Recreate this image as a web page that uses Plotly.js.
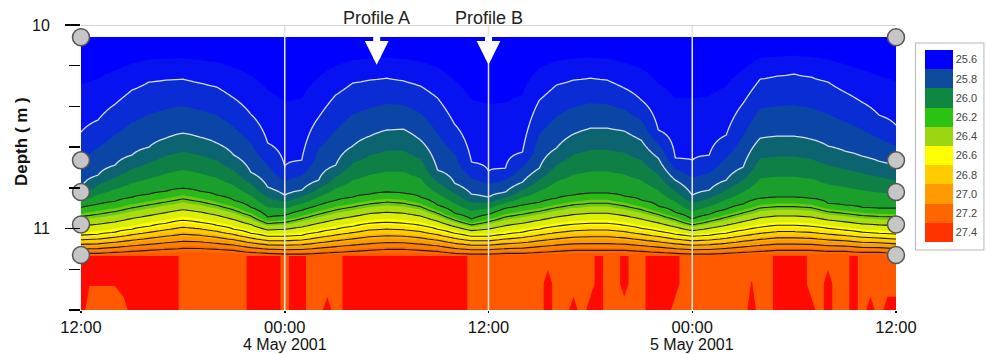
<!DOCTYPE html>
<html>
<head>
<meta charset="utf-8">
<script src="https://cdn.plot.ly/plotly-3.0.1.min.js"></script>
<style>html,body{margin:0;padding:0;background:#fff}#chart{width:986px;height:354px}</style>
</head>
<body>
<div id="chart"></div>
<script>
// ---------- DATA ----------
// Depth (m) of isotherms, hourly from 12:00 3 May 2001 to 12:00 5 May 2001 (49 samples)
const iso257 = [10.526,10.467,10.389,10.320,10.280,10.271,10.266,10.285,10.305,10.359,10.438,10.580,10.694,
  10.664,10.453,10.344,10.285,10.271,10.261,10.275,10.300,10.359,10.487,10.674,10.718,
  10.703,10.625,10.369,10.295,10.271,10.261,10.271,10.310,10.369,10.516,10.654,10.664,
  10.639,10.541,10.384,10.266,10.251,10.241,10.256,10.280,10.330,10.379,10.443,10.492];
const iso259 = [10.802,10.738,10.689,10.639,10.600,10.556,10.531,10.551,10.580,10.639,10.723,10.797,10.836,
  10.812,10.762,10.689,10.595,10.546,10.516,10.512,10.566,10.713,10.777,10.831,10.846,
  10.821,10.772,10.703,10.605,10.536,10.507,10.507,10.521,10.566,10.654,10.762,10.836,
  10.812,10.762,10.698,10.556,10.546,10.546,10.561,10.595,10.620,10.644,10.669,10.694];
const iso262 = [10.895,10.880,10.866,10.846,10.831,10.817,10.802,10.817,10.836,10.861,10.895,10.944,10.935,
  10.910,10.885,10.861,10.846,10.831,10.821,10.826,10.846,10.885,10.925,10.954,10.930,
  10.900,10.885,10.871,10.851,10.836,10.826,10.826,10.841,10.861,10.890,10.920,10.954,
  10.930,10.905,10.880,10.851,10.846,10.846,10.851,10.876,10.885,10.895,10.900,10.900];
const iso2665 = [11.033,11.028,11.018,11.003,10.989,10.974,10.959,10.969,10.984,11.003,11.023,11.038,11.038,
  11.033,11.018,11.003,10.989,10.974,10.969,10.974,10.984,11.003,11.023,11.038,11.038,
  11.028,11.018,11.003,10.989,10.979,10.974,10.974,10.984,10.999,11.013,11.028,11.038,
  11.033,11.023,11.008,10.994,10.984,10.984,10.989,10.999,11.008,11.018,11.023,11.028];
const iso2725 = [11.122,11.122,11.117,11.112,11.107,11.102,11.097,11.097,11.102,11.107,11.117,11.122,11.126,
  11.126,11.122,11.117,11.112,11.107,11.102,11.102,11.107,11.112,11.122,11.126,11.126,
  11.122,11.122,11.117,11.112,11.107,11.107,11.107,11.107,11.112,11.117,11.122,11.126,
  11.126,11.122,11.117,11.112,11.107,11.107,11.107,11.112,11.112,11.117,11.117,11.122];
const topDepth = 10.059, topTemp = 25.5;
const bottomLayerDepth = 11.135, bottomTemp = 27.35;

// Near-bottom temperatures (half-hourly, 97 samples) at three depths
const redDepths = [11.135, 11.27, 11.4];
const redTop = [27.5,27.5,27.5,27.5,27.5,27.5,27.5,27.5,27.5,27.5,
  27.5,27.5,27.3,27.3,27.3,27.3,27.3,27.3,27.3,27.3,
  27.5,27.5,27.5,27.5,27.3,27.5,27.5,27.3,27.3,27.3,
  27.3,27.425,27.5,27.5,27.5,27.5,27.5,27.5,27.5,27.5,
  27.5,27.5,27.5,27.5,27.5,27.5,27.3,27.3,27.3,27.3,
  27.3,27.3,27.3,27.3,27.3,27.3,27.3,27.3,27.3,27.3,
  27.3,27.5,27.3,27.3,27.5,27.3,27.3,27.5,27.5,27.5,
  27.5,27.3,27.3,27.3,27.3,27.3,27.3,27.3,27.3,27.3,
  27.3,27.3,27.5,27.5,27.5,27.5,27.3,27.3,27.3,27.3,
  27.3,27.5,27.3,27.3,27.3,27.3,27.3];
const redMid = [27.5,27.41,27.41,27.41,27.41,27.5,27.5,27.5,27.5,27.5,
  27.5,27.5,27.3,27.3,27.3,27.3,27.3,27.3,27.3,27.3,
  27.5,27.5,27.5,27.5,27.3,27.5,27.5,27.3,27.3,27.3,
  27.3,27.425,27.5,27.5,27.5,27.5,27.5,27.5,27.5,27.5,
  27.5,27.5,27.5,27.5,27.5,27.5,27.3,27.3,27.3,27.3,
  27.3,27.3,27.3,27.3,27.3,27.5,27.3,27.3,27.3,27.3,
  27.3,27.5,27.3,27.3,27.5,27.3,27.3,27.5,27.5,27.5,
  27.5,27.3,27.3,27.3,27.3,27.3,27.3,27.3,27.3,27.41,
  27.3,27.3,27.5,27.5,27.5,27.5,27.3,27.3,27.5,27.3,
  27.3,27.5,27.3,27.3,27.3,27.3,27.3];
const redBottom = [27.5,27.3,27.3,27.3,27.3,27.3,27.5,27.5,27.5,27.5,
  27.5,27.5,27.3,27.3,27.3,27.3,27.3,27.3,27.3,27.3,
  27.5,27.5,27.5,27.5,27.3,27.5,27.5,27.3,27.3,27.5,
  27.3,27.425,27.5,27.5,27.5,27.5,27.5,27.5,27.5,27.5,
  27.5,27.5,27.5,27.5,27.5,27.5,27.3,27.3,27.3,27.3,
  27.3,27.3,27.3,27.3,27.3,27.5,27.3,27.3,27.5,27.3,
  27.5,27.5,27.3,27.3,27.3,27.3,27.3,27.5,27.5,27.5,
  27.3,27.3,27.3,27.3,27.3,27.3,27.3,27.3,27.3,27.5,
  27.3,27.3,27.5,27.5,27.5,27.5,27.5,27.3,27.5,27.3,
  27.3,27.5,27.3,27.5,27.3,27.5,27.5];

// Sensor depths (grey circles)
const sensorDepths = [10.06, 10.665, 10.82, 10.98, 11.13];

// Axis ticks
const tickTimes = ['2001-05-03 12:00','2001-05-04 00:00','2001-05-04 12:00','2001-05-05 00:00','2001-05-05 12:00'];
const tickText = ['12:00','00:00','12:00','00:00','12:00'];
const dateLabelTimes = ['2001-05-04 00:00','2001-05-05 00:00'];
const dateLabelText = ['4 May 2001','5 May 2001'];
const gridTimes = ['2001-05-04 00:00','2001-05-04 12:00','2001-05-05 00:00'];

// Profiles
const profileNames = ['Profile A','Profile B'];
const profileTimes = ['2001-05-04 05:25','2001-05-04 12:00'];
const profileArrowDepth = 10.195;

// Legend
const legendValues = [25.6,25.8,26.0,26.2,26.4,26.6,26.8,27.0,27.2,27.4];
const legendColors = ['#0000FF','#0C4B9C','#0E8840','#2CC212','#9CD612','#FFFF00','#FFCC00','#FF9A00','#FF6600','#FF3300'];

// ---------- STYLE ----------
const bandColors = ['#0000FF','#0612F0','#0A2CD4','#0B46A6','#0C6470','#0E8046','#1A9E2C','#2DB81A','#6ACB14','#A8DC10',
  '#DCEE08','#FFFF00','#FFE400','#FFCC00','#FFB000','#FF9900','#FF8000','#FF6A00','#FF5A00','#FF0A00'];
const FONT = 'Liberation Sans, Arial, sans-serif';

// ---------- BUILD ----------
function stamp(h) {
  const d = new Date(Date.UTC(2001, 4, 3, 12, 0) + h * 3600000);
  return d.toISOString().slice(0, 16).replace('T', ' ');
}
const hourTimes = iso257.map((_, i) => stamp(i));
const halfHourTimes = redTop.map((_, i) => stamp(i / 2));

const depthGrid = [];
for (let d = topDepth; d <= 11.4 + 1e-9; d += 0.004) depthGrid.push(+d.toFixed(4));
if (depthGrid[depthGrid.length - 1] < 11.4) depthGrid.push(11.4);

function profileAnchors(i) {
  return [[topDepth, topTemp], [iso257[i], 25.7], [iso259[i], 25.9], [iso262[i], 26.2],
    [iso2665[i], 26.65], [iso2725[i], 27.25], [bottomLayerDepth, bottomTemp], [11.4, bottomTemp]];
}
function tempAt(anchors, d) {
  if (d <= anchors[0][0]) return anchors[0][1];
  for (let k = 1; k < anchors.length; k++) {
    if (d <= anchors[k][0]) {
      const [d0, t0] = anchors[k - 1], [d1, t1] = anchors[k];
      return t0 + (t1 - t0) * (d - d0) / (d1 - d0);
    }
  }
  return anchors[anchors.length - 1][1];
}
const cols = hourTimes.map((_, i) => profileAnchors(i));
const zGrid = depthGrid.map(d => cols.map(a => tempAt(a, d)));

const fillScale = bandColors.map((c, i) => [i / (bandColors.length - 1), c]);
// legend drawn top-to-bottom from 25.6 to 27.4: negate values so colorbar runs downward
const legendScale = [];
const revColors = legendColors.slice().reverse();
revColors.forEach((c, i) => { legendScale.push([i / 10, c]); legendScale.push([(i + 1) / 10, c]); });

const traces = [
  { type: 'contour', x: hourTimes, y: depthGrid, z: zGrid, autocontour: false,
    contours: { start: 25.6, end: 27.4, size: 0.1, coloring: 'fill', showlines: false },
    colorscale: fillScale, showscale: false, line: { width: 0, smoothing: 0 }, hoverinfo: 'skip' },
  { type: 'contour', x: halfHourTimes, y: redDepths, z: [redTop, redMid, redBottom], autocontour: false,
    contours: { start: 27.4, end: 27.4, size: 0.1, coloring: 'fill', showlines: false },
    colorscale: [[0, 'rgba(255,90,0,0)'], [1, '#FF0A00']], showscale: false, line: { width: 0, smoothing: 0 }, hoverinfo: 'skip' },
  { type: 'contour', x: hourTimes, y: depthGrid, z: zGrid, autocontour: false,
    contours: { start: 25.7, end: 25.9, size: 0.2, coloring: 'none', showlines: true },
    line: { color: '#D4DEF0', width: 1.3, smoothing: 0 }, showscale: false, hoverinfo: 'skip' },
  { type: 'contour', x: hourTimes, y: depthGrid, z: zGrid, autocontour: false,
    contours: { start: 26.2, end: 27.26, size: 0.15, coloring: 'none', showlines: true },
    line: { color: '#1E1E1E', width: 1.1, smoothing: 0 }, showscale: false, hoverinfo: 'skip' },
  { type: 'scatter', mode: 'markers', cliponaxis: false, hoverinfo: 'skip', showlegend: false,
    x: sensorDepths.map(() => tickTimes[0]).concat(sensorDepths.map(() => tickTimes[tickTimes.length - 1])),
    y: sensorDepths.concat(sensorDepths),
    marker: { size: 17, color: '#C6C6C6', line: { color: '#555', width: 1.5 } } },
  { type: 'heatmap', xaxis: 'x2', yaxis: 'y2', z: [legendValues.map(v => -v)], x: legendValues.map((_, i) => i), y: [0],
    colorscale: legendScale, zmin: -27.5, zmax: -25.5, showscale: true, hoverinfo: 'skip',
    colorbar: { tickmode: 'array', tickvals: legendValues.map(v => -v), ticktext: legendValues.map(v => v.toFixed(1)),
      ticks: '', thickness: 28, thicknessmode: 'pixels', len: 206, lenmode: 'pixels',
      x: 1.0245, xanchor: 'left', y: 0.5754, yanchor: 'middle', xpad: 9, ypad: 7,
      bgcolor: '#fff', bordercolor: '#B8B8B8', borderwidth: 1, outlinewidth: 0,
      tickfont: { family: FONT, size: 11, color: '#444' } } }
];

const shapes = gridTimes.map(t => ({ type: 'line', xref: 'x', yref: 'y', x0: t, x1: t, y0: 10, y1: 11.4,
  line: { color: '#E4E4E4', width: 1.5 }, layer: 'above' }));
shapes.push({ type: 'line', xref: 'x', yref: 'y', x0: tickTimes[0], x1: tickTimes[tickTimes.length - 1], y0: 10, y1: 10,
  line: { color: '#C8C8C8', width: 1.5 }, layer: 'above' });

const annotations = [];
profileNames.forEach((n, i) => annotations.push({ x: profileTimes[i], y: profileArrowDepth, xref: 'x', yref: 'y',
  text: n, showarrow: true, arrowhead: 2, arrowsize: 0.68, arrowwidth: 7, arrowcolor: '#FFFFFF',
  ax: 0, ay: -47, startstandoff: 7, font: { family: FONT, size: 18, color: '#222' } }));
dateLabelTimes.forEach((t, i) => annotations.push({ x: t, y: 0, xref: 'x', yref: 'paper', yanchor: 'middle',
  yshift: -34, text: dateLabelText[i], showarrow: false, font: { family: FONT, size: 16, color: '#111' } }));
annotations.push({ text: 'Depth ( m )', textangle: -90, showarrow: false, xref: 'paper', yref: 'paper',
  x: 0, xanchor: 'center', xshift: -59, y: 0.5895, yanchor: 'middle',
  font: { family: FONT, size: 17, weight: 'bold', color: '#111' } });

const layout = {
  width: 986, height: 354, margin: { l: 81, r: 90, t: 25, b: 44, autoexpand: false },
  paper_bgcolor: '#fff', plot_bgcolor: '#fff', showlegend: false,
  font: { family: FONT, color: '#111' },
  xaxis: { type: 'date', range: [tickTimes[0], tickTimes[tickTimes.length - 1]], tickmode: 'array',
    tickvals: tickTimes, ticktext: tickText, ticks: 'outside', ticklen: 2, tickwidth: 1.5, tickcolor: '#000',
    showgrid: false, zeroline: false, showline: false, automargin: false,
    tickfont: { family: FONT, size: 16.5, color: '#111' } },
  yaxis: { range: [11.4, 10], tickmode: 'array', tickvals: [10, 11], ticktext: ['10', '11'],
    ticks: 'outside', ticklen: 15, tickwidth: 1.5, tickcolor: '#000', ticklabelstandoff: 12, automargin: false,
    minor: { tick0: 10, dtick: 0.2, ticks: 'outside', ticklen: 11, tickwidth: 1.5, tickcolor: '#000', showgrid: false },
    showgrid: false, zeroline: false, showline: false, tickfont: { family: FONT, size: 16, color: '#111' } },
  xaxis2: { overlaying: 'x', range: [100, 101], visible: false, anchor: 'y2' },
  yaxis2: { overlaying: 'y', range: [100, 101], visible: false, anchor: 'x2' },
  shapes: shapes, annotations: annotations
};

Plotly.newPlot('chart', traces, layout, { staticPlot: true, displayModeBar: false });
</script>
</body>
</html>
